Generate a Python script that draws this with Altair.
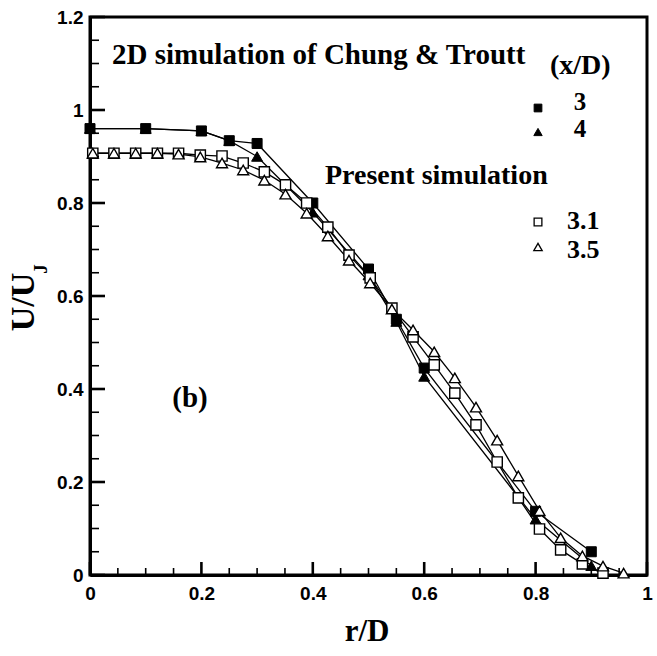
import altair as alt
import pandas as pd

# ---- data ----
r_sim = [0.005, 0.043, 0.082, 0.121, 0.159, 0.198, 0.237, 0.275, 0.313, 0.351,
         0.389, 0.427, 0.465, 0.503, 0.542, 0.580, 0.618, 0.655, 0.693, 0.731,
         0.769, 0.807, 0.845, 0.884, 0.921, 0.958]
u_31 = [0.907, 0.907, 0.907, 0.907, 0.907, 0.903, 0.901, 0.886, 0.867, 0.839,
        0.800, 0.748, 0.688, 0.639, 0.574, 0.512, 0.452, 0.391, 0.323, 0.243,
        0.166, 0.099, 0.054, 0.024, 0.004]
u_35 = [0.907, 0.907, 0.907, 0.907, 0.905, 0.899, 0.886, 0.871, 0.849, 0.819,
        0.778, 0.729, 0.677, 0.628, 0.572, 0.527, 0.480, 0.424, 0.361, 0.290,
        0.213, 0.138, 0.080, 0.041, 0.019, 0.004]
r_ct = [0.0, 0.1, 0.2, 0.25, 0.3, 0.4, 0.5, 0.55, 0.6, 0.8, 0.9]
u_ct3 = [0.96, 0.96, 0.955, 0.934, 0.928, 0.80, 0.658, 0.55, 0.445, 0.137, 0.05]
u_ct4 = [0.96, 0.96, 0.955, 0.934, 0.90, 0.78, 0.645, 0.545, 0.427, 0.12, 0.02]

x_major = [0.0, 0.2, 0.4, 0.6, 0.8, 1.0]
x_minor = [0.05, 0.1, 0.15, 0.25, 0.3, 0.35, 0.45, 0.5, 0.55, 0.65, 0.7, 0.75, 0.85, 0.9, 0.95]
y_major = [0.0, 0.2, 0.4, 0.6, 0.8, 1.0, 1.2]
y_minor = [0.05, 0.1, 0.15, 0.25, 0.3, 0.35, 0.45, 0.5, 0.55, 0.65, 0.7, 0.75,
           0.85, 0.9, 0.95, 1.05, 1.1, 1.15]

W, H = 557, 558
SERIF = "Liberation Serif"
SANS = "Liberation Sans"

rows = []
for name, rs, us in [("ct3", r_ct, u_ct3), ("ct4", r_ct, u_ct4),
                     ("s31", r_sim, u_31), ("s35", r_sim, u_35)]:
    for r, u in zip(rs, us):
        rows.append({"series": name, "r": r, "u": u, "w": 1.3})


# inward tick segments as 2-point lines in the same table (px lengths -> data units)
def add_ticks(xs, ys, xlen_px, ylen_px, tag, w):
    for i, v in enumerate(xs):
        rows.append({"series": f"{tag}x{i}", "r": v, "u": 0.0, "w": w})
        rows.append({"series": f"{tag}x{i}", "r": v, "u": ylen_px * 1.2 / H, "w": w})
    for i, v in enumerate(ys):
        rows.append({"series": f"{tag}y{i}", "r": 0.0, "u": v, "w": w})
        rows.append({"series": f"{tag}y{i}", "r": xlen_px / W, "u": v, "w": w})


add_ticks(x_major, y_major, 15, 13, "M", 2.6)
add_ticks(x_minor, y_minor, 9, 7, "m", 1.6)
df = pd.DataFrame(rows)

xscale = alt.Scale(domain=[0, 1], nice=False, zero=False)
yscale = alt.Scale(domain=[0, 1.2], nice=False, zero=False)
x_axis = alt.Axis(values=x_major, format="~g", ticks=False, grid=False,
                  domainColor="black", domainWidth=3, labelFont=SANS,
                  labelFontWeight="bold", labelFontSize=19, labelColor="black",
                  labelPadding=9, labelFlush=False, labelOverlap=False, title=None)
y_axis = alt.Axis(values=y_major, format="~g", ticks=False, grid=False,
                  domainColor="black", domainWidth=3, labelFont=SANS,
                  labelFontWeight="bold", labelFontSize=19, labelColor="black",
                  labelPadding=7, labelFlush=False, labelOverlap=False, title=None)

X = lambda f: alt.X(f, type="quantitative", scale=xscale, axis=x_axis)
Y = lambda f: alt.Y(f, type="quantitative", scale=yscale, axis=y_axis)

lines = alt.Chart(df).mark_line(color="black").encode(
    x=X("r"), y=Y("u"), detail="series:N", order="r:Q",
    strokeWidth=alt.StrokeWidth("w:Q", scale=None, legend=None))


def pts(series, shape, filled, size):
    d = df[df.series == series]
    if filled:
        m = alt.Chart(d).mark_point(shape=shape, filled=True, fill="black",
                                    stroke="black", strokeWidth=1, size=size, opacity=1)
    else:
        m = alt.Chart(d).mark_point(shape=shape, filled=True, fill="white",
                                    stroke="black", strokeWidth=1.4, size=size, opacity=1)
    return m.encode(x=X("r"), y=Y("u"))


p_ct4 = pts("ct4", "triangle-up", True, 120)
p_ct3 = pts("ct3", "square", True, 100)
p_31 = pts("s31", "square", False, 105)
p_35 = pts("s35", "triangle-up", False, 120)

one = pd.DataFrame({"k": [0]})


def txt(s, x, y, size, align="left", baseline="middle", angle=0, weight="bold", font=SERIF):
    kw = dict(text=s, font=font, fontSize=size, fontWeight=weight, align=align,
              baseline=baseline, color="black")
    if angle:
        kw["angle"] = angle
    return alt.Chart(one).mark_text(**kw).encode(x=alt.value(x), y=alt.value(y))


def lpt(shape, filled, x, y, size):
    if filled:
        m = alt.Chart(one).mark_point(shape=shape, filled=True, fill="black", stroke="black",
                                      strokeWidth=1, size=size, opacity=1)
    else:
        m = alt.Chart(one).mark_point(shape=shape, filled=True, fill="white", stroke="black",
                                      strokeWidth=1.3, size=size, opacity=1)
    return m.encode(x=alt.value(x), y=alt.value(y))


annots = [
    txt("2D simulation of Chung & Troutt", 22, 47, 29, baseline="alphabetic"),
    txt("(x/D)", 460, 57, 28, baseline="alphabetic"),
    txt("3", 490, 85, 25, align="center"),
    txt("4", 490, 112, 25, align="center"),
    txt("Present simulation", 235, 167, 28, baseline="alphabetic"),
    txt("3.1", 477, 204, 26),
    txt("3.5", 477, 233, 26),
    txt("(b)", 100, 381, 29, align="center"),
    txt("r/D", 277, 615, 31, align="center"),
    txt("U/U", -66, 285, 34, align="center", angle=270),
    txt("J", -49, 252, 19, align="center", angle=270),
    lpt("square", True, 448, 91, 60),
    lpt("triangle-up", True, 448, 115, 70),
    lpt("square", False, 448, 205, 60),
    lpt("triangle-up", False, 448, 230, 70),
]

chart = alt.layer(
    lines, p_ct4, p_ct3, p_31, p_35, *annots
).properties(
    width=W, height=H,
    autosize=alt.AutoSizeParams(type="none"),
    padding={"left": 90, "top": 17, "right": 10, "bottom": 81},
    background="white",
).configure_view(stroke="black", strokeWidth=3)

chart.save("out.html", embed_options={"renderer": "svg", "actions": False})
